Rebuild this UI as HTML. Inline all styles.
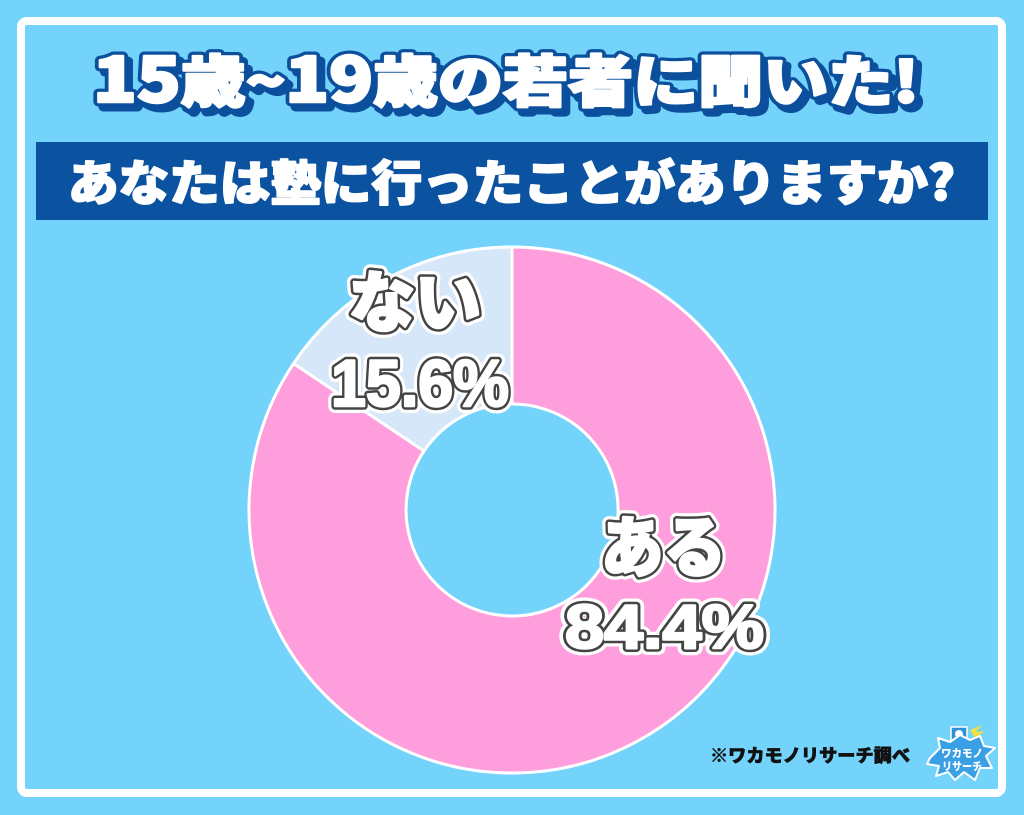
<!DOCTYPE html>
<html><head><meta charset="utf-8"><style>
html,body{margin:0;padding:0;background:#74d3fb;}
svg{display:block;}
.jp{font-family:"Liberation Sans","Noto Sans CJK JP",sans-serif;font-weight:bold;}
.cjk{font-family:"Noto Sans CJK JP","Liberation Sans",sans-serif;font-weight:900;}
</style></head><body>
<svg width="1024" height="815" viewBox="0 0 1024 815" xmlns="http://www.w3.org/2000/svg">
<rect x="0" y="0" width="1024" height="815" fill="#74d3fb"/>
<rect x="21" y="21" width="981" height="772" rx="6" fill="#74d3fb" stroke="#ffffff" stroke-width="8"/>

<!-- Title -->
<g class="cjk" font-size="56" stroke-linejoin="round">
  <text x="98" y="107" textLength="826" lengthAdjust="spacingAndGlyphs" fill="#0c4f9c" stroke="#0c4f9c" stroke-width="9"><tspan font-size="62">15</tspan>歳~<tspan font-size="62">19</tspan>歳の若者に聞いた!</text>
  <text x="93" y="102" textLength="826" lengthAdjust="spacingAndGlyphs" fill="#ffffff" stroke="#0c4f9c" stroke-width="9" paint-order="stroke"><tspan font-size="62">15</tspan>歳~<tspan font-size="62">19</tspan>歳の若者に聞いた!</text>
  <text x="93" y="102" textLength="826" lengthAdjust="spacingAndGlyphs" fill="#ffffff" stroke="#ffffff" stroke-width="2.5"><tspan font-size="62">15</tspan>歳~<tspan font-size="62">19</tspan>歳の若者に聞いた!</text>
</g>

<!-- Banner -->
<rect x="36" y="142" width="952" height="78" fill="#0b52a0"/>
<text class="cjk" x="68" y="200" font-size="48" textLength="887" lengthAdjust="spacingAndGlyphs" fill="#ffffff" stroke="#ffffff" stroke-width="1.8" stroke-linejoin="round">あなたは塾に行ったことがありますか?</text>

<!-- Donut -->
<path d="M512,247 A263,263 0 1,1 293.6,363.5 L424,451 A106,106 0 1,0 512,404 Z" fill="#ff9edc" stroke="#ffffff" stroke-width="3" stroke-linejoin="round"/>
<path d="M293.6,363.5 A263,263 0 0,1 512,247 L512,404 A106,106 0 0,0 424,451 Z" fill="#d6e7fa" stroke="#ffffff" stroke-width="3" stroke-linejoin="round"/>

<!-- Labels -->
<g class="cjk" font-size="66" stroke-linejoin="round">
  <text x="349" y="326" textLength="132" lengthAdjust="spacingAndGlyphs" fill="#fff" stroke="#fff" stroke-width="14">ない</text>
  <text x="349" y="326" textLength="132" lengthAdjust="spacingAndGlyphs" fill="#fff" stroke="#444" stroke-width="7.5">ない</text>
  <text x="349" y="326" textLength="132" lengthAdjust="spacingAndGlyphs" fill="#fff" stroke="#fff" stroke-width="2.5">ない</text>
  <text x="601" y="571" textLength="125" lengthAdjust="spacingAndGlyphs" fill="#fff" stroke="#fff" stroke-width="14">ある</text>
  <text x="601" y="571" textLength="125" lengthAdjust="spacingAndGlyphs" fill="#fff" stroke="#444" stroke-width="7.5">ある</text>
  <text x="601" y="571" textLength="125" lengthAdjust="spacingAndGlyphs" fill="#fff" stroke="#fff" stroke-width="2.5">ある</text>
</g>
<g class="jp" stroke-linejoin="round">
  <text x="331" y="406" font-size="66" textLength="178" lengthAdjust="spacingAndGlyphs" fill="#fff" stroke="#fff" stroke-width="14">15.6%</text>
  <text x="331" y="406" font-size="66" textLength="178" lengthAdjust="spacingAndGlyphs" fill="#fff" stroke="#444" stroke-width="7.5">15.6%</text>
  <text x="331" y="406" font-size="66" textLength="178" lengthAdjust="spacingAndGlyphs" fill="#fff" stroke="#fff" stroke-width="2.5">15.6%</text>
  <text x="565" y="648" font-size="62" textLength="199" lengthAdjust="spacingAndGlyphs" fill="#fff" stroke="#fff" stroke-width="14">84.4%</text>
  <text x="565" y="648" font-size="62" textLength="199" lengthAdjust="spacingAndGlyphs" fill="#fff" stroke="#444" stroke-width="7.5">84.4%</text>
  <text x="565" y="648" font-size="62" textLength="199" lengthAdjust="spacingAndGlyphs" fill="#fff" stroke="#fff" stroke-width="2.5">84.4%</text>
</g>

<!-- Footer -->
<text class="cjk" x="710" y="762" font-size="18" textLength="200" lengthAdjust="spacingAndGlyphs" fill="#111" stroke="#111" stroke-width="0.6">※ワカモノリサーチ調べ</text>

<!-- Logo -->
<g>
  <rect x="951" y="727" width="16" height="14" fill="#2f8fd8" stroke="#fff" stroke-width="1.5"/>
  <circle cx="959" cy="734" r="4" fill="#fff"/>
  <path d="M970,730 L982,725 L976,732 L985,731 L975,738 Z" fill="#f0e040"/>
  <polygon points="930,758 940,748 938,738 950,742 960,735 970,740 980,736 984,746 995,748 986,756 992,768 980,768 975,780 964,772 955,780 948,772 936,776 939,766 927,764" fill="#3aa0e6" stroke="#ffffff" stroke-width="2" stroke-linejoin="round"/>
  <text class="cjk" x="941" y="757" font-size="11" fill="#fff" textLength="42" lengthAdjust="spacingAndGlyphs">ワカモノ</text>
  <text class="cjk" x="942" y="770" font-size="11" fill="#fff" textLength="40" lengthAdjust="spacingAndGlyphs">リサーチ</text>
</g>
</svg>
</body></html>
